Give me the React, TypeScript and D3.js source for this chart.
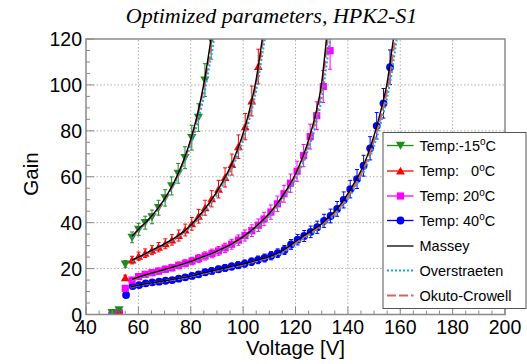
import React from 'react';
import * as d3 from 'd3';

// ---------- data ----------
const xTicks = [40, 60, 80, 100, 120, 140, 160, 180, 200];
const yTicks = [0, 20, 40, 60, 80, 100, 120];

const greenV = [50.0, 52.6, 55.0, 57.6, 60.1, 62.6, 65.2, 67.7, 70.2, 72.7, 75.2, 77.8, 80.4, 82.9, 85.4, 87.8];
const greenG = [0.8, 2.0, 21.9, 33.6, 37.1, 40.0, 42.5, 46.5, 50.8, 56.0, 61.5, 68.3, 77.0, 85.8, 102.1, 119.6];

const redV = [50.0, 52.6, 55.0, 57.6, 60.1, 62.6, 65.2, 67.7, 70.3, 72.8, 75.4, 77.9, 80.4, 83.0, 85.5, 88.0, 90.6, 93.1, 95.7, 98.2, 100.8, 103.3, 105.8];
const redG = [0.3, 0.8, 16.0, 23.7, 25.4, 26.7, 28.0, 29.3, 30.8, 32.5, 34.4, 36.8, 39.5, 42.8, 46.5, 50.4, 54.6, 59.7, 65.3, 73.1, 81.8, 93.0, 108.0];

const pinkV = [50.0, 52.6, 55.0, 57.6, 60.1, 62.6, 65.2, 67.7, 70.3, 72.8, 75.4, 77.9, 80.5, 83.0, 85.5, 88.1, 90.6, 93.1, 95.6, 98.2, 100.7, 103.3, 105.8, 108.0, 110.6, 113.1, 115.6, 118.1, 120.6, 123.1, 125.6, 128.1, 130.6, 133.2];
const pinkG = [0.3, 0.8, 11.4, 15.0, 16.5, 17.5, 18.2, 18.9, 19.7, 20.4, 21.4, 22.3, 23.3, 24.4, 25.5, 26.6, 27.7, 29.0, 30.6, 32.4, 34.4, 36.5, 38.9, 41.6, 44.6, 48.2, 52.6, 57.2, 62.4, 69.2, 77.5, 86.6, 99.3, 114.9];

const blueV = [50.0, 52.6, 55.3, 57.8, 60.3, 62.8, 65.3, 67.9, 70.4, 72.9, 75.4, 77.9, 80.5, 83.0, 85.5, 88.0, 90.6, 93.1, 95.6, 98.1, 100.6, 103.2, 105.7, 108.2, 110.7, 113.2, 115.8, 118.3, 120.8, 123.3, 125.8, 128.3, 130.9, 133.4, 135.9, 138.4, 140.9, 143.5, 146.0, 148.5, 151.0, 153.6, 156.1];
const blueG = [0.2, 1.0, 8.5, 12.4, 12.8, 13.6, 14.0, 14.3, 14.7, 15.0, 15.6, 16.2, 16.8, 17.5, 18.4, 19.0, 19.7, 20.3, 20.9, 21.5, 22.2, 23.0, 23.8, 24.6, 25.6, 26.7, 28.1, 30.5, 32.6, 34.2, 36.0, 38.0, 40.8, 42.9, 46.0, 49.9, 54.6, 59.0, 64.8, 72.4, 82.2, 92.0, 107.7];

// relative measurement uncertainty (error bar half-length / gain)
const relErr = 0.07;

// model curves
const greenCurveV = [57.5, 60, 62.5, 65, 67.5, 70, 72.5, 75, 77.5, 80, 82.5, 85, 87, 88.5, 89.5];
const greenMassey = [34.0, 37.0, 39.8, 42.8, 46.3, 50.4, 55.2, 60.9, 67.8, 76.3, 86.9, 100.5, 114.5, 126.0, 134.0];
const greenOverst = [33.4, 36.5, 39.3, 42.3, 45.8, 49.7, 54.4, 59.7, 66.0, 73.9, 83.3, 95.0, 107.5, 117.0, 125.0];
const greenOkuto = [33.8, 36.8, 39.6, 42.6, 46.1, 50.1, 54.9, 60.5, 67.2, 75.5, 85.8, 99.0, 112.0, 123.0, 131.0];

const redCurveV = [57.5, 60, 62.5, 65, 67.5, 70, 72.5, 75, 77.5, 80, 82.5, 85, 87.5, 90, 92.5, 95, 97.5, 100, 102.5, 105, 107.3, 108.5, 109.5];
const redMassey = [23.6, 25.0, 26.4, 27.9, 29.3, 30.8, 32.4, 34.2, 36.3, 38.9, 42.0, 45.5, 49.3, 53.5, 58.5, 64.0, 70.8, 79.0, 89.3, 102.5, 120.0, 130.0, 138.0];
const redOverst = [23.2, 24.6, 26.0, 27.4, 28.8, 30.3, 31.9, 33.6, 35.6, 38.2, 41.0, 44.3, 48.0, 52.0, 56.8, 62.0, 68.3, 76.0, 85.5, 97.5, 113.0, 121.5, 129.0];
const redOkuto = [23.5, 24.9, 26.3, 27.7, 29.1, 30.6, 32.2, 34.0, 36.0, 38.6, 41.6, 45.0, 48.8, 52.9, 57.8, 63.2, 69.8, 77.8, 87.8, 100.5, 117.5, 127.5, 135.0];

const pinkCurveV = [57.5, 60, 62.5, 65, 67.5, 70, 72.5, 75, 77.5, 80, 82.5, 85, 87.5, 90, 92.5, 95, 97.5, 100, 102.5, 105, 107.5, 110, 112.5, 115, 117.5, 120, 122.5, 125, 127.5, 130, 131.0, 132.0, 133.5];
const pinkMassey = [15.3, 16.3, 17.2, 18.0, 18.8, 19.6, 20.4, 21.3, 22.2, 23.1, 24.2, 25.3, 26.4, 27.6, 28.9, 30.3, 32.0, 33.9, 36.0, 38.4, 41.0, 44.0, 47.5, 51.5, 56.0, 61.2, 67.8, 76.0, 86.5, 101.0, 111.0, 122.0, 137.0];
const pinkOverst = [14.9, 15.9, 16.8, 17.6, 18.4, 19.2, 20.0, 20.8, 21.7, 22.6, 23.6, 24.7, 25.8, 27.0, 28.2, 29.6, 31.2, 33.0, 35.0, 37.3, 39.8, 42.7, 46.0, 49.7, 54.0, 58.9, 64.8, 72.2, 81.5, 94.0, 101.5, 110.0, 122.0];
const pinkOkuto = [15.2, 16.2, 17.1, 17.9, 18.7, 19.5, 20.3, 21.2, 22.1, 23.0, 24.0, 25.1, 26.2, 27.4, 28.7, 30.1, 31.7, 33.6, 35.6, 38.0, 40.6, 43.6, 47.0, 50.9, 55.3, 60.3, 66.6, 74.5, 84.5, 98.5, 107.5, 117.5, 132.0];

const blueCurveV = [57.0, 60, 65, 70, 75, 80, 85, 90, 95, 100, 105, 110, 115, 117.5, 120, 122.5, 125, 127.5, 130, 132.5, 135, 137.5, 140, 142.5, 145, 147.5, 150, 152.5, 155, 157.4, 158.5, 159.5];
const blueMassey = [12.0, 12.8, 13.8, 14.7, 15.6, 16.7, 18.2, 19.5, 20.8, 22.0, 23.6, 25.2, 27.8, 29.7, 31.8, 33.8, 35.6, 37.5, 39.6, 42.2, 45.0, 48.4, 52.6, 57.4, 62.6, 69.4, 78.0, 88.4, 101.0, 120.0, 128.0, 136.0];
const blueOverst = [11.8, 12.6, 13.6, 14.5, 15.4, 16.4, 17.8, 19.1, 20.4, 21.6, 23.1, 24.7, 26.9, 28.6, 30.6, 32.6, 34.4, 36.3, 38.3, 40.7, 43.4, 46.5, 50.3, 54.8, 59.8, 65.8, 73.5, 83.0, 94.5, 110.0, 119.0, 128.0];
const blueOkuto = [11.9, 12.7, 13.7, 14.6, 15.5, 16.6, 18.0, 19.3, 20.6, 21.8, 23.4, 25.0, 27.4, 29.2, 31.2, 33.2, 35.0, 36.9, 39.0, 41.5, 44.3, 47.5, 51.5, 56.1, 61.2, 67.6, 75.8, 85.7, 97.8, 115.0, 123.5, 131.0];

const seriesLabels = ['Temp:-15', 'Temp:   0', 'Temp: 20', 'Temp: 40'];
const modelLabels = ['Massey', 'Overstraeten', 'Okuto-Crowell'];

// ---------- layout ----------
const W = 527, H = 364;
const X0 = 86, X1 = 505, YB = 314.5, YT = 39;
const x = d3.scaleLinear().domain([40, 200]).range([X0, X1]);
const y = d3.scaleLinear().domain([0, 120]).range([YB, YT]);

const GREEN = '#1f8a1f';
const RED = '#ff0000';
const MAG = '#ff00ff';
const BLUE = '#0000ff';
const OVC = '#1aa6ee';
const OKC = '#d9645f';
const FRAME = '#8a8a8a';

type Shape = 'tdown' | 'tup' | 'square' | 'circle';

function marker(shape: Shape, cx: number, cy: number, color: string, key?: string) {
  if (shape === 'tdown') {
    const s = 4.6;
    return <path key={key} d={`M${cx - s},${cy - s * 0.8}L${cx + s},${cy - s * 0.8}L${cx},${cy + s * 0.95}Z`} fill={color} />;
  }
  if (shape === 'tup') {
    const s = 4.4;
    return <path key={key} d={`M${cx - s},${cy + s * 0.8}L${cx + s},${cy + s * 0.8}L${cx},${cy - s * 0.95}Z`} fill={color} />;
  }
  if (shape === 'square') {
    const s = 3.6;
    return <rect key={key} x={cx - s} y={cy - s} width={2 * s} height={2 * s} fill={color} />;
  }
  return <circle key={key} cx={cx} cy={cy} r={3.9} fill={color} />;
}

const series = [
  { V: greenV, G: greenG, color: GREEN, shape: 'tdown' as Shape },
  { V: redV, G: redG, color: RED, shape: 'tup' as Shape },
  { V: pinkV, G: pinkG, color: MAG, shape: 'square' as Shape },
  { V: blueV, G: blueG, color: BLUE, shape: 'circle' as Shape },
];

const curves = [
  { V: greenCurveV, m: greenMassey, o: greenOverst, k: greenOkuto },
  { V: redCurveV, m: redMassey, o: redOverst, k: redOkuto },
  { V: pinkCurveV, m: pinkMassey, o: pinkOverst, k: pinkOkuto },
  { V: blueCurveV, m: blueMassey, o: blueOverst, k: blueOkuto },
];

const lineGen = d3
  .line<[number, number]>()
  .x((d) => x(d[0]))
  .y((d) => y(d[1]))
  .curve(d3.curveMonotoneX);

const pts = (V: number[], G: number[]) => V.map((v, i) => [v, G[i]] as [number, number]);

export default function App() {
  const xMinor = d3.range(40, 200.1, 5);
  const yMinor = d3.range(0, 120.1, 5);
  const sans = 'Liberation Sans, Arial, Helvetica, sans-serif';

  const legX = 383, legY = 132.5, legW = 143, legH = 176;
  const rowY = [145.5, 171, 196, 220.5, 246, 270.5, 295.5];
  const drawOrder = [3, 2, 1, 0];

  return (
    <svg width={W} height={H} style={{ position: 'absolute', left: 0, top: 0 }} fontFamily={sans}>
      <defs>
        <clipPath id="plot">
          <rect x={X0} y={YT} width={X1 - X0} height={YB - YT} />
        </clipPath>
      </defs>
      <rect x={0} y={0} width={W} height={H} fill="#fff" />

      {/* grid */}
      {xTicks.slice(1, -1).map((t) => (
        <line key={'gx' + t} x1={x(t)} x2={x(t)} y1={YB} y2={YT} stroke="#b0b0b0" strokeWidth={1} strokeDasharray="1.5,2" />
      ))}
      {yTicks.slice(1, -1).map((t) => (
        <line key={'gy' + t} x1={X0} x2={X1} y1={y(t)} y2={y(t)} stroke="#b0b0b0" strokeWidth={1} strokeDasharray="1.5,2" />
      ))}

      {/* data */}
      <g clipPath="url(#plot)">
        {drawOrder.map((si) => {
          const s = series[si];
          return (
            <g key={'s' + si}>
              {s.V.map((v, i) => {
                const e = s.G[i] * relErr;
                const cx = x(v);
                return (
                  <g key={i} stroke={s.color} strokeWidth={1}>
                    <line x1={cx} x2={cx} y1={y(s.G[i] - e)} y2={y(s.G[i] + e)} />
                    <line x1={cx - 2} x2={cx + 2} y1={y(s.G[i] + e)} y2={y(s.G[i] + e)} />
                    <line x1={cx - 2} x2={cx + 2} y1={y(s.G[i] - e)} y2={y(s.G[i] - e)} />
                  </g>
                );
              })}
              {s.V.map((v, i) => marker(s.shape, x(v), y(s.G[i]), s.color, 'm' + i))}
            </g>
          );
        })}
        {curves.map((c, ci) => (
          <g key={'c' + ci} fill="none">
            <path d={lineGen(pts(c.V, c.o)) || ''} stroke={OVC} strokeWidth={2} strokeDasharray="2,2" />
            <path d={lineGen(pts(c.V, c.k)) || ''} stroke={OKC} strokeWidth={2} strokeDasharray="9,3" />
            <path d={lineGen(pts(c.V, c.m)) || ''} stroke="#000" strokeWidth={1.4} />
          </g>
        ))}
      </g>

      {/* frame */}
      <rect x={X0} y={YT} width={X1 - X0} height={YB - YT} fill="none" stroke={FRAME} strokeWidth={1.5} />

      {/* ticks */}
      {xMinor.map((t) => {
        const major = t % 20 === 0;
        return <line key={'tx' + t} x1={x(t)} x2={x(t)} y1={YB} y2={YB - (major ? 8 : 4)} stroke={FRAME} strokeWidth={1} />;
      })}
      {yMinor.map((t) => {
        const major = t % 20 === 0;
        return <line key={'ty' + t} x1={X0} x2={X0 + (major ? 8 : 4)} y1={y(t)} y2={y(t)} stroke={FRAME} strokeWidth={1} />;
      })}

      {/* tick labels */}
      {xTicks.map((t) => (
        <text key={'lx' + t} x={x(t)} y={334} textAnchor="middle" fontSize={19.5} fill="#000">
          {t}
        </text>
      ))}
      {yTicks.map((t) => (
        <text key={'ly' + t} x={82} y={y(t) + 7} textAnchor="end" fontSize={19.5} fill="#000">
          {t}
        </text>
      ))}

      {/* axis titles */}
      <text x={(X0 + X1) / 2} y={355} textAnchor="middle" fontSize={20.5} fill="#000">
        Voltage [V]
      </text>
      <text transform={`translate(38,174) rotate(-90)`} textAnchor="middle" fontSize={20.5} fill="#000">
        Gain
      </text>

      {/* title */}
      <text x={271.5} y={23} textAnchor="middle" fontSize={22} fontStyle="italic" fontFamily="Liberation Serif, Times New Roman, serif" fill="#000">
        Optimized parameters, HPK2-S1
      </text>

      {/* legend */}
      <rect x={legX} y={legY} width={legW} height={legH} fill="#fff" stroke="#555" strokeWidth={1} />
      {series.map((s, i) => (
        <g key={'leg' + i}>
          <line x1={387} x2={413.5} y1={rowY[i]} y2={rowY[i]} stroke={s.color} strokeWidth={1.3} />
          {marker(s.shape, 400.5, rowY[i], s.color)}
          <text x={419.5} y={rowY[i] + 5.2} fontSize={14.5} fill="#000" style={{ whiteSpace: 'pre' }}>
            {seriesLabels[i]}
            <tspan dy={-5.5} fontSize={10}>o</tspan>
            <tspan dy={5.5}>C</tspan>
          </text>
        </g>
      ))}
      <line x1={387} x2={413.5} y1={rowY[4]} y2={rowY[4]} stroke="#000" strokeWidth={1.3} />
      <line x1={387} x2={413.5} y1={rowY[5]} y2={rowY[5]} stroke={OVC} strokeWidth={2} strokeDasharray="2,2" />
      <line x1={387} x2={413.5} y1={rowY[6]} y2={rowY[6]} stroke={OKC} strokeWidth={2} strokeDasharray="9,3" />
      {modelLabels.map((l, i) => (
        <text key={'ml' + i} x={419.5} y={rowY[4 + i] + 5.2} fontSize={14.5} fill="#000">
          {l}
        </text>
      ))}
    </svg>
  );
}
